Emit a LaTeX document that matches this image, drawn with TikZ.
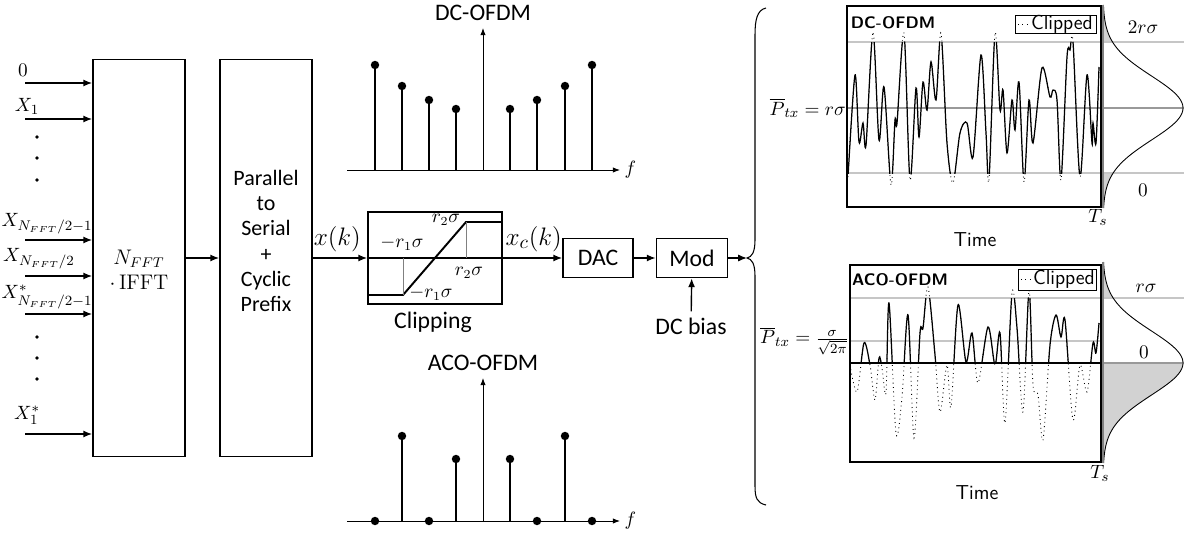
\documentclass[tikz,border=0pt]{standalone}
\usepackage[no-math]{fontspec}
\setmainfont{Carlito}
\usepackage{amsmath}
\usetikzlibrary{arrows.meta,positioning,calc}

\def\dcwave{plot[smooth] coordinates {(848,177) (855,75) (859,142) (863,123) (866,145) (873,32) (879,140) (884,87) (891,185) (895,120) (897,123) (904,33) (910,180) (916,88) (919,137) (923,82) (927,110) (931,62) (936,100) (941,33) (947,143) (953,183) (960,133) (967,123) (973,157) (981,55) (986,133) (989,180) (995,33) (1000,110) (1003,90) (1007,153) (1012,100) (1015,130) (1019,82) (1024,182) (1029,100) (1033,143) (1042,68) (1050,97) (1053,90) (1057,100) (1061,180) (1067,57) (1070,50) (1073,42) (1080,177) (1087,75) (1092,143) (1093,123) (1096,143) (1099,67)}}
\def\acowave{plot[smooth] coordinates {(850,365) (857,392) (864,343) (870,365) (875,400) (879,358) (882,368) (886,393) (889,303) (896,433) (902,397) (908,315) (914,438) (920,333) (923,328) (928,287) (935,355) (940,412) (947,365) (951,407) (958,305) (966,362) (972,333) (978,383) (988,327) (995,365) (1000,333) (1005,423) (1012,293) (1017,328) (1023,412) (1029,290) (1033,385) (1038,395) (1043,440) (1050,345) (1056,315) (1061,337) (1065,320) (1073,420) (1080,365) (1087,392) (1093,343) (1096,353) (1099,323)}}

\begin{document}
\begin{tikzpicture}[x=0.02cm,y=-0.02cm,>={Latex[length=5pt,width=4pt]},
  font=\fontsize{13.5}{16}\selectfont,
  blk/.style={draw,line width=1pt,inner sep=0pt},
  sig/.style={->,line width=0.8pt},
  stem/.style={line width=1.1pt},
  ax/.style={-{Latex[length=4pt,width=3pt]},line width=0.5pt},
  lvl/.style={gray!45,line width=0.6pt},
  sym/.style={font=\fontsize{11}{13}\selectfont},
  lab/.style={font=\sffamily\fontsize{11.5}{13}\selectfont}]
\useasboundingbox (0,0) rectangle (1184,534);

% transmitter chain
\node[blk,minimum width=1.84cm,minimum height=7.94cm] (ifft) at (139,258) {};
\node[align=center,font=\fontsize{12}{14.5}\selectfont] (iffttxt) at (139,270) {$N_{FFT}$\\$\cdot\,\mathrm{IFFT}$};
\node[blk,minimum width=1.84cm,minimum height=7.94cm] (ps) at (266,258) {};
\node[align=center,font=\fontsize{12.5}{14.4}\selectfont] (pstxt) at (266,241) {Parallel\\to\\Serial\\+\\Cyclic\\Prefix};
\node[blk,minimum width=2.68cm,minimum height=1.84cm] (clip) at (435,258) {};
\node[blk,minimum width=1.4cm,minimum height=0.78cm] (dac) at (598,258) {DAC};
\node[blk,minimum width=1.42cm,minimum height=0.78cm] (mod) at (692,258) {Mod};
\node (bias) at (691,326) {DC bias};
\coordinate (brc) at (747,258);

\foreach \n/\y in {a/83,b/119,c/240,d/276,e/314,f/434} {
  \coordinate (in\n) at (25,\y);
  \draw[sig] (in\n) -- (in\n -| ifft.west);
}
\node[sym] (la) at (23,70) {$0$};
\node[sym] (lb) at (27,106) {$X_1$};
\node[sym] (lc) at (47,224) {$X_{N_{FFT}/2-1}$};
\node[sym] (ld) at (39,259) {$X_{N_{FFT}/2}$};
\node[sym] (le) at (47,297) {$X^*_{N_{FFT}/2-1}$};
\node[sym] (lf) at (27,415) {$X^*_1$};
\foreach \y in {137,158,180,337,358,379} \fill (37,\y) circle (1.1pt);

\draw[sig] (ifft) -- (ps);
\draw[sig] (ps) -- (clip) node[pos=0.45,above=0pt,font=\fontsize{15}{17}\selectfont] (xk) {$x(k)$};
\draw[sig] (clip) -- (dac) node[pos=0.52,above=0pt,font=\fontsize{15}{17}\selectfont] (xck) {$x_c(k)$};
\draw[sig] (dac) -- (mod);
\draw[sig] (mod) -- (brc);
\draw[sig] (bias) -- (mod);

% clipping characteristic
\draw[line width=0.9pt] (clip.west) -- (clip.east);
\draw[line width=1.1pt] (368,295) -- (403,295) -- (466,222) -- (502,222);
\draw[gray,line width=0.4pt] (403,258) -- (403,295) (466,222) -- (466,258);
\node[font=\fontsize{10.5}{12}\selectfont] (c1) at (446,220) {$r_2\sigma$};
\node[font=\fontsize{10.5}{12}\selectfont] (c2) at (402,243) {$-r_1\sigma$};
\node[font=\fontsize{10.5}{12}\selectfont] (c3) at (469,273) {$r_2\sigma$};
\node[font=\fontsize{10.5}{12}\selectfont] (c4) at (431,293) {$-r_1\sigma$};
\node (cliptxt) at (433,322) {Clipping};

% spectra
\draw[ax] (347,170) -- (620,170) node[right=-1pt,sym] (f1) {$f$};
\draw[ax] (483,170) -- (483,28);
\node (dcspec) at (483,13) {DC-OFDM};
\foreach \x/\h in {375/65,402/86,429/100,456/109,510/109,537/100,565/86,592/65} {
  \draw[stem] (\x,170) -- (\x,\h);
  \fill (\x,\h) circle (2.4pt);
}
\draw[ax] (347,521) -- (620,521) node[right=-1pt,sym] (f2) {$f$};
\draw[ax] (483,521) -- (483,378);
\node (acospec) at (483,363) {ACO-OFDM};
\foreach \x/\h in {375/521,402/436,429/521,456/459,510/459,537/521,565/436,592/521} {
  \draw[stem] (\x,521) -- (\x,\h);
  \fill (\x,\h) circle (2.4pt);
}

% brace
\draw[line width=0.6pt] (766,8) .. controls (757,10) and (755,20) .. (755,35) -- (755,240)
  .. controls (755,252) and (752,257) .. (747,258) .. controls (752,259) and (755,264) .. (755,276)
  -- (755,486) .. controls (755,498) and (757,503) .. (766,505);

% DC-OFDM time signal
\fill[gray!35] (1103,5) -- plot[domain=5:42,samples=20] ({1103+80*exp(-0.5*((\x-108)/32)^2)},\x) -- (1103,42) -- cycle;
\fill[gray!35] (1103,173) -- plot[domain=173:208,samples=20] ({1103+80*exp(-0.5*((\x-108)/32)^2)},\x) -- (1103,208) -- cycle;
\draw[lvl] (847,42) -- (1184,42) (847,173) -- (1184,173);
\draw[gray!80,line width=0.8pt] (847,108) -- (1184,108);
\draw[line width=0.5pt] plot[domain=5:208,samples=80] ({1103+80*exp(-0.5*((\x-108)/32)^2)},\x);
\draw[gray,line width=1.2pt] (1103,5) -- (1103,208);
\draw[line width=0.5pt,dotted] \dcwave;
\begin{scope}
  \clip (847,42) rectangle (1101,173);
  \draw[line width=0.7pt] \dcwave;
\end{scope}
\draw[line width=0.7pt] (847,6) rectangle (1101,207);
\node[font=\sffamily\bfseries\fontsize{9.5}{11}\selectfont] (dct) at (893,23) {DC-OFDM};
\draw[fill=white,line width=0.5pt] (1015,15) rectangle (1096,33);
\draw[dotted,line width=0.5pt] (1018,24) -- (1029,24);
\node[lab,anchor=west,inner sep=1pt] (dcleg) at (1029,24) {Clipped};
\node[anchor=east,inner sep=0.5pt,font=\fontsize{10.8}{12}\selectfont] (dcp) at (847,108) {$\overline{P}_{tx}=r\sigma$};
\node[sym] (dchi) at (1143,27) {$2r\sigma$};
\node[sym] (dclo) at (1143,190) {$0$};
\node[sym] (dcts) at (1098,217) {$T_s$};
\node[lab] (dctime) at (975,240) {Time};

% ACO-OFDM time signal
\fill[gray!35] (1103,262) -- plot[domain=262:298,samples=20] ({1103+80*exp(-0.5*((\x-363)/32)^2)},\x) -- (1103,298) -- cycle;
\fill[gray!35] (1103,363) -- plot[domain=363:463,samples=40] ({1103+80*exp(-0.5*((\x-363)/32)^2)},\x) -- (1103,463) -- cycle;
\draw[lvl] (850,298) -- (1184,298) (850,341) -- (1101,341);
\draw[gray!80,line width=0.8pt] (850,363) -- (1184,363);
\draw[line width=0.5pt] plot[domain=262:463,samples=80] ({1103+80*exp(-0.5*((\x-363)/32)^2)},\x);
\draw[gray,line width=1.2pt] (1103,262) -- (1103,463);
\draw[line width=0.5pt,dotted] \acowave;
\begin{scope}
  \clip (850,298) rectangle (1101,363);
  \draw[line width=0.7pt] \acowave;
\end{scope}
\draw[line width=0.7pt] (850,363) -- (1101,363);
\draw[line width=0.7pt] (850,265) rectangle (1101,462);
\node[font=\sffamily\bfseries\fontsize{9.5}{11}\selectfont] (acot) at (900,280) {ACO-OFDM};
\draw[fill=white,line width=0.5pt] (1018,269) rectangle (1096,290);
\draw[dotted,line width=0.5pt] (1021,279) -- (1031,279);
\node[lab,anchor=west,inner sep=1pt] (acoleg) at (1031,279) {Clipped};
\node[anchor=east,inner sep=0.5pt,font=\fontsize{10.8}{12}\selectfont] (acop) at (850,341) {$\overline{P}_{tx}=\frac{\sigma}{\sqrt{2\pi}}$};
\node[sym] (acohi) at (1146,288) {$r\sigma$};
\node[sym] (acolo) at (1144,352) {$0$};
\node[sym] (acots) at (1100,473) {$T_s$};
\node[lab] (acotime) at (977,493) {Time};
\end{tikzpicture}
\end{document}
